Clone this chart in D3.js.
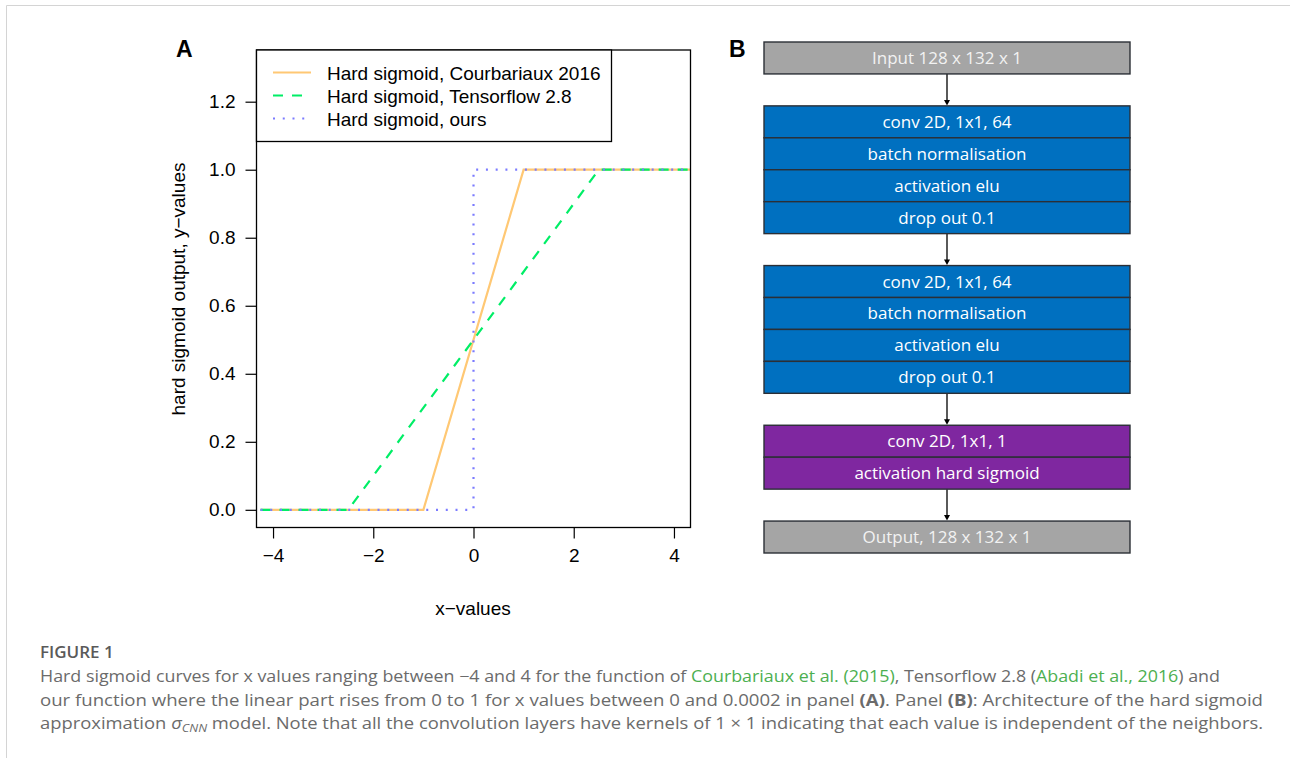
<!DOCTYPE html>
<html>
<head>
<meta charset="utf-8">
<script src="https://cdn.jsdelivr.net/npm/d3@7"></script>
<style>
  body { margin: 0; background: #fff; }
  svg { display: block; }
  .tick text { font-family: "Liberation Sans", Arial, sans-serif; }
</style>
</head>
<body>
<div id="fig"></div>
<script>
// panel A data: hard sigmoid curves (x, y break points)
var courbX = [-4.25, -1, 1, 4.33];
var courbY = [0, 0, 1, 1];
var tfX = [-4.25, -2.5, 2.5, 4.33];
var tfY = [0, 0, 1, 1];
var oursX = [-4.25, 0, 0.0002, 4.33];
var oursY = [0, 0, 1, 1];
var seriesNames = ['Hard sigmoid, Courbariaux 2016', 'Hard sigmoid, Tensorflow 2.8', 'Hard sigmoid, ours'];
var xTicks = [-4, -2, 0, 2, 4];
var yTicks = [0, 0.2, 0.4, 0.6, 0.8, 1.0, 1.2];

// panel B data: layers, grouped in blocks
var blockLayers = [
  ['Input 128 x 132 x 1'],
  ['conv 2D, 1x1, 64', 'batch normalisation', 'activation elu', 'drop out 0.1'],
  ['conv 2D, 1x1, 64', 'batch normalisation', 'activation elu', 'drop out 0.1'],
  ['conv 2D, 1x1, 1', 'activation hard sigmoid'],
  ['Output, 128 x 132 x 1']
];
var blockKind = ['io', 'dense', 'dense', 'out', 'io'];

var W = 1290, H = 758;
var svg = d3.select('#fig').append('svg')
  .attr('width', W)
  .attr('height', H);

// page frame lines
svg.append('line').attr('x1', 6.5).attr('x2', W).attr('y1', 5.5).attr('y2', 5.5)
  .attr('stroke', '#d4d4d4').attr('stroke-width', 1);
svg.append('line').attr('x1', 6.5).attr('x2', 6.5).attr('y1', 5.5).attr('y2', H)
  .attr('stroke', '#d4d4d4').attr('stroke-width', 1);

// ---------- panel A ----------
var fontA = '"Liberation Sans", Arial, Helvetica, sans-serif';
var x = d3.scaleLinear().domain([-4.33, 4.33]).range([256.5, 690.5]);
var y = d3.scaleLinear().domain([-0.052, 1.352]).range([527.5, 50]);

var gA = svg.append('g');

var xAxis = gA.append('g')
  .attr('transform', 'translate(0,' + y.range()[0] + ')')
  .call(d3.axisBottom(x).tickValues(xTicks).tickSize(11).tickPadding(10)
    .tickFormat(function (d) { return d < 0 ? '\u2212' + Math.abs(d) : d; }));
var yAxis = gA.append('g')
  .attr('transform', 'translate(' + x.range()[0] + ',0)')
  .call(d3.axisLeft(y).tickValues(yTicks).tickSize(11).tickPadding(10)
    .tickFormat(d3.format('.1f')));
[xAxis, yAxis].forEach(function (a) {
  a.select('.domain').remove();
  a.selectAll('.tick line').attr('stroke', '#000').attr('stroke-width', 1.2);
  a.selectAll('.tick text').attr('font-size', 19).attr('fill', '#000');
});

var line = d3.line()
  .x(function (d) { return x(d[0]); })
  .y(function (d) { return y(d[1]); });

var styles = [
  { color: '#FFC874', dash: null },
  { color: '#00EE66', dash: '10,9' },
  { color: '#7B7BFF', dash: '2,7.75' }
];
var curves = [d3.zip(courbX, courbY), d3.zip(tfX, tfY), d3.zip(oursX, oursY)];

curves.forEach(function (c, i) {
  gA.append('path')
    .datum(c)
    .attr('d', line)
    .attr('fill', 'none')
    .attr('stroke', styles[i].color)
    .attr('stroke-width', 2.2)
    .attr('stroke-dasharray', styles[i].dash);
});

// plot frame
gA.append('rect')
  .attr('x', x.range()[0]).attr('y', y.range()[1])
  .attr('width', x.range()[1] - x.range()[0])
  .attr('height', y.range()[0] - y.range()[1])
  .attr('fill', 'none').attr('stroke', '#000').attr('stroke-width', 1.3);

// legend
var lg = gA.append('g');
lg.append('rect')
  .attr('x', x.range()[0]).attr('y', y.range()[1])
  .attr('width', 355).attr('height', 91.5)
  .attr('fill', '#fff').attr('stroke', '#000').attr('stroke-width', 1.3);
seriesNames.forEach(function (n, i) {
  var ly = 72.5 + i * 23;
  lg.append('line')
    .attr('x1', 273).attr('x2', 311).attr('y1', ly).attr('y2', ly)
    .attr('stroke', styles[i].color).attr('stroke-width', 2.2)
    .attr('stroke-dasharray', styles[i].dash);
  lg.append('text')
    .attr('x', 327).attr('y', ly + 7)
    .attr('font-family', fontA).attr('font-size', 19)
    .text(n);
});

// axis titles
gA.append('text')
  .attr('x', 473).attr('y', 615)
  .attr('text-anchor', 'middle')
  .attr('font-family', fontA).attr('font-size', 19)
  .text('x\u2212values');
gA.append('text')
  .attr('transform', 'translate(185,289)rotate(-90)')
  .attr('text-anchor', 'middle')
  .attr('font-family', fontA).attr('font-size', 19)
  .text('hard sigmoid output, y\u2212values');

gA.append('text')
  .attr('x', 176).attr('y', 57)
  .attr('font-family', fontA).attr('font-size', 23).attr('font-weight', 'bold')
  .text('A');

// ---------- panel B ----------
var fontB = '"Open Sans", "Noto Sans", sans-serif';
var kindFill = { io: '#A5A5A5', dense: '#0070C0', out: '#7F27A0' };
var kindText = { io: '#F2F2F2', dense: '#ffffff', out: '#ffffff' };

// each layer takes one slot, each gap between blocks one slot
var slots = [];
var s = 0;
blockLayers.forEach(function (b, bi) {
  b.forEach(function (name) {
    slots.push({ name: name, kind: blockKind[bi], block: bi, slot: s });
    s += 1;
  });
  s += 1;
});
var yB = d3.scaleLinear().domain([0, s - 1]).range([42, 553]);
var xB = d3.scaleLinear().domain([0, 1]).range([764, 1130]);

var gB = svg.append('g');

// arrows between blocks
var blockEnds = blockLayers.map(function (b, bi) {
  var ss = slots.filter(function (d) { return d.block === bi; });
  return { top: ss[0].slot, bottom: ss[ss.length - 1].slot + 1 };
});
for (var i = 0; i < blockEnds.length - 1; i++) {
  var y1 = yB(blockEnds[i].bottom), y2 = yB(blockEnds[i + 1].top);
  gB.append('line')
    .attr('x1', xB(0.5)).attr('x2', xB(0.5))
    .attr('y1', y1).attr('y2', y2 - 4)
    .attr('stroke', '#000').attr('stroke-width', 1.3);
  gB.append('path')
    .attr('d', 'M' + (xB(0.5) - 3) + ',' + (y2 - 6) + 'L' + (xB(0.5) + 3) + ',' + (y2 - 6) + 'L' + xB(0.5) + ',' + (y2 - 0.5) + 'Z')
    .attr('fill', '#000');
}

gB.selectAll('rect.layer')
  .data(slots)
  .enter().append('rect')
  .attr('class', 'layer')
  .attr('x', xB(0))
  .attr('y', function (d) { return yB(d.slot); })
  .attr('width', xB(1) - xB(0))
  .attr('height', function (d) { return yB(d.slot + 1) - yB(d.slot); })
  .attr('fill', function (d) { return kindFill[d.kind]; })
  .attr('stroke', '#2b2f36')
  .attr('stroke-width', 1.4);

gB.selectAll('text.layer')
  .data(slots)
  .enter().append('text')
  .attr('class', 'layer')
  .attr('x', xB(0.5))
  .attr('y', function (d) { return (yB(d.slot) + yB(d.slot + 1)) / 2 + 6; })
  .attr('text-anchor', 'middle')
  .attr('font-family', fontB).attr('font-size', 17)
  .attr('fill', function (d) { return kindText[d.kind]; })
  .text(function (d) { return d.name; });

gB.append('text')
  .attr('x', 729).attr('y', 57)
  .attr('font-family', fontA).attr('font-size', 23).attr('font-weight', 'bold')
  .text('B');

// ---------- caption ----------
var fontC = '"Open Sans", Lato, sans-serif';
var grey = '#6b6b6b', green = '#4caf50';
svg.append('text')
  .attr('x', 40).attr('y', 658)
  .attr('font-family', fontC).attr('font-size', 17).attr('font-weight', 600)
  .attr('fill', '#5a5a5a')
  .text('FIGURE 1');

var capLines = [
  { y: 682, w: 1180, parts: [
    ['Hard sigmoid curves for x values ranging between \u22124 and 4 for the function of ', grey],
    ['Courbariaux et al. (2015)', green],
    [', Tensorflow 2.8 (', grey],
    ['Abadi et al., 2016', green],
    [') and', grey]] },
  { y: 705.5, w: 1223, parts: [
    ['our function where the linear part rises from 0 to 1 for x values between 0 and 0.0002 in panel ', grey],
    ['(A)', grey, 'bold'],
    ['. Panel ', grey],
    ['(B)', grey, 'bold'],
    [': Architecture of the hard sigmoid', grey]] },
  { y: 729, w: 1223, parts: [
    ['approximation ', grey],
    ['\u03c3', grey, 'italic'],
    ['CNN', grey, 'sub'],
    [' model. Note that all the convolution layers have kernels of 1 \u00d7 1 indicating that each value is independent of the neighbors.', grey]] }
];
capLines.forEach(function (l) {
  var t = svg.append('text')
    .attr('x', 40).attr('y', l.y)
    .attr('font-family', fontC).attr('font-size', 16)
    .attr('fill', grey);
  l.parts.forEach(function (p) {
    var ts = t.append('tspan').attr('fill', p[1]).text(p[0]);
    if (p[2] === 'bold') ts.attr('font-weight', 'bold');
    if (p[2] === 'italic') ts.attr('font-style', 'italic');
    if (p[2] === 'sub') {
      ts.attr('font-style', 'italic').attr('font-size', 11).attr('dy', 3);
    }
  });
  // bring back baseline after subscript
  t.selectAll('tspan').each(function (d, i, nodes) {
    var prev = i > 0 ? d3.select(nodes[i - 1]).attr('dy') : null;
    if (prev === '3') d3.select(this).attr('dy', -3);
  });
  t.attr('textLength', l.w).attr('lengthAdjust', 'spacingAndGlyphs');
});
</script>
</body>
</html>
